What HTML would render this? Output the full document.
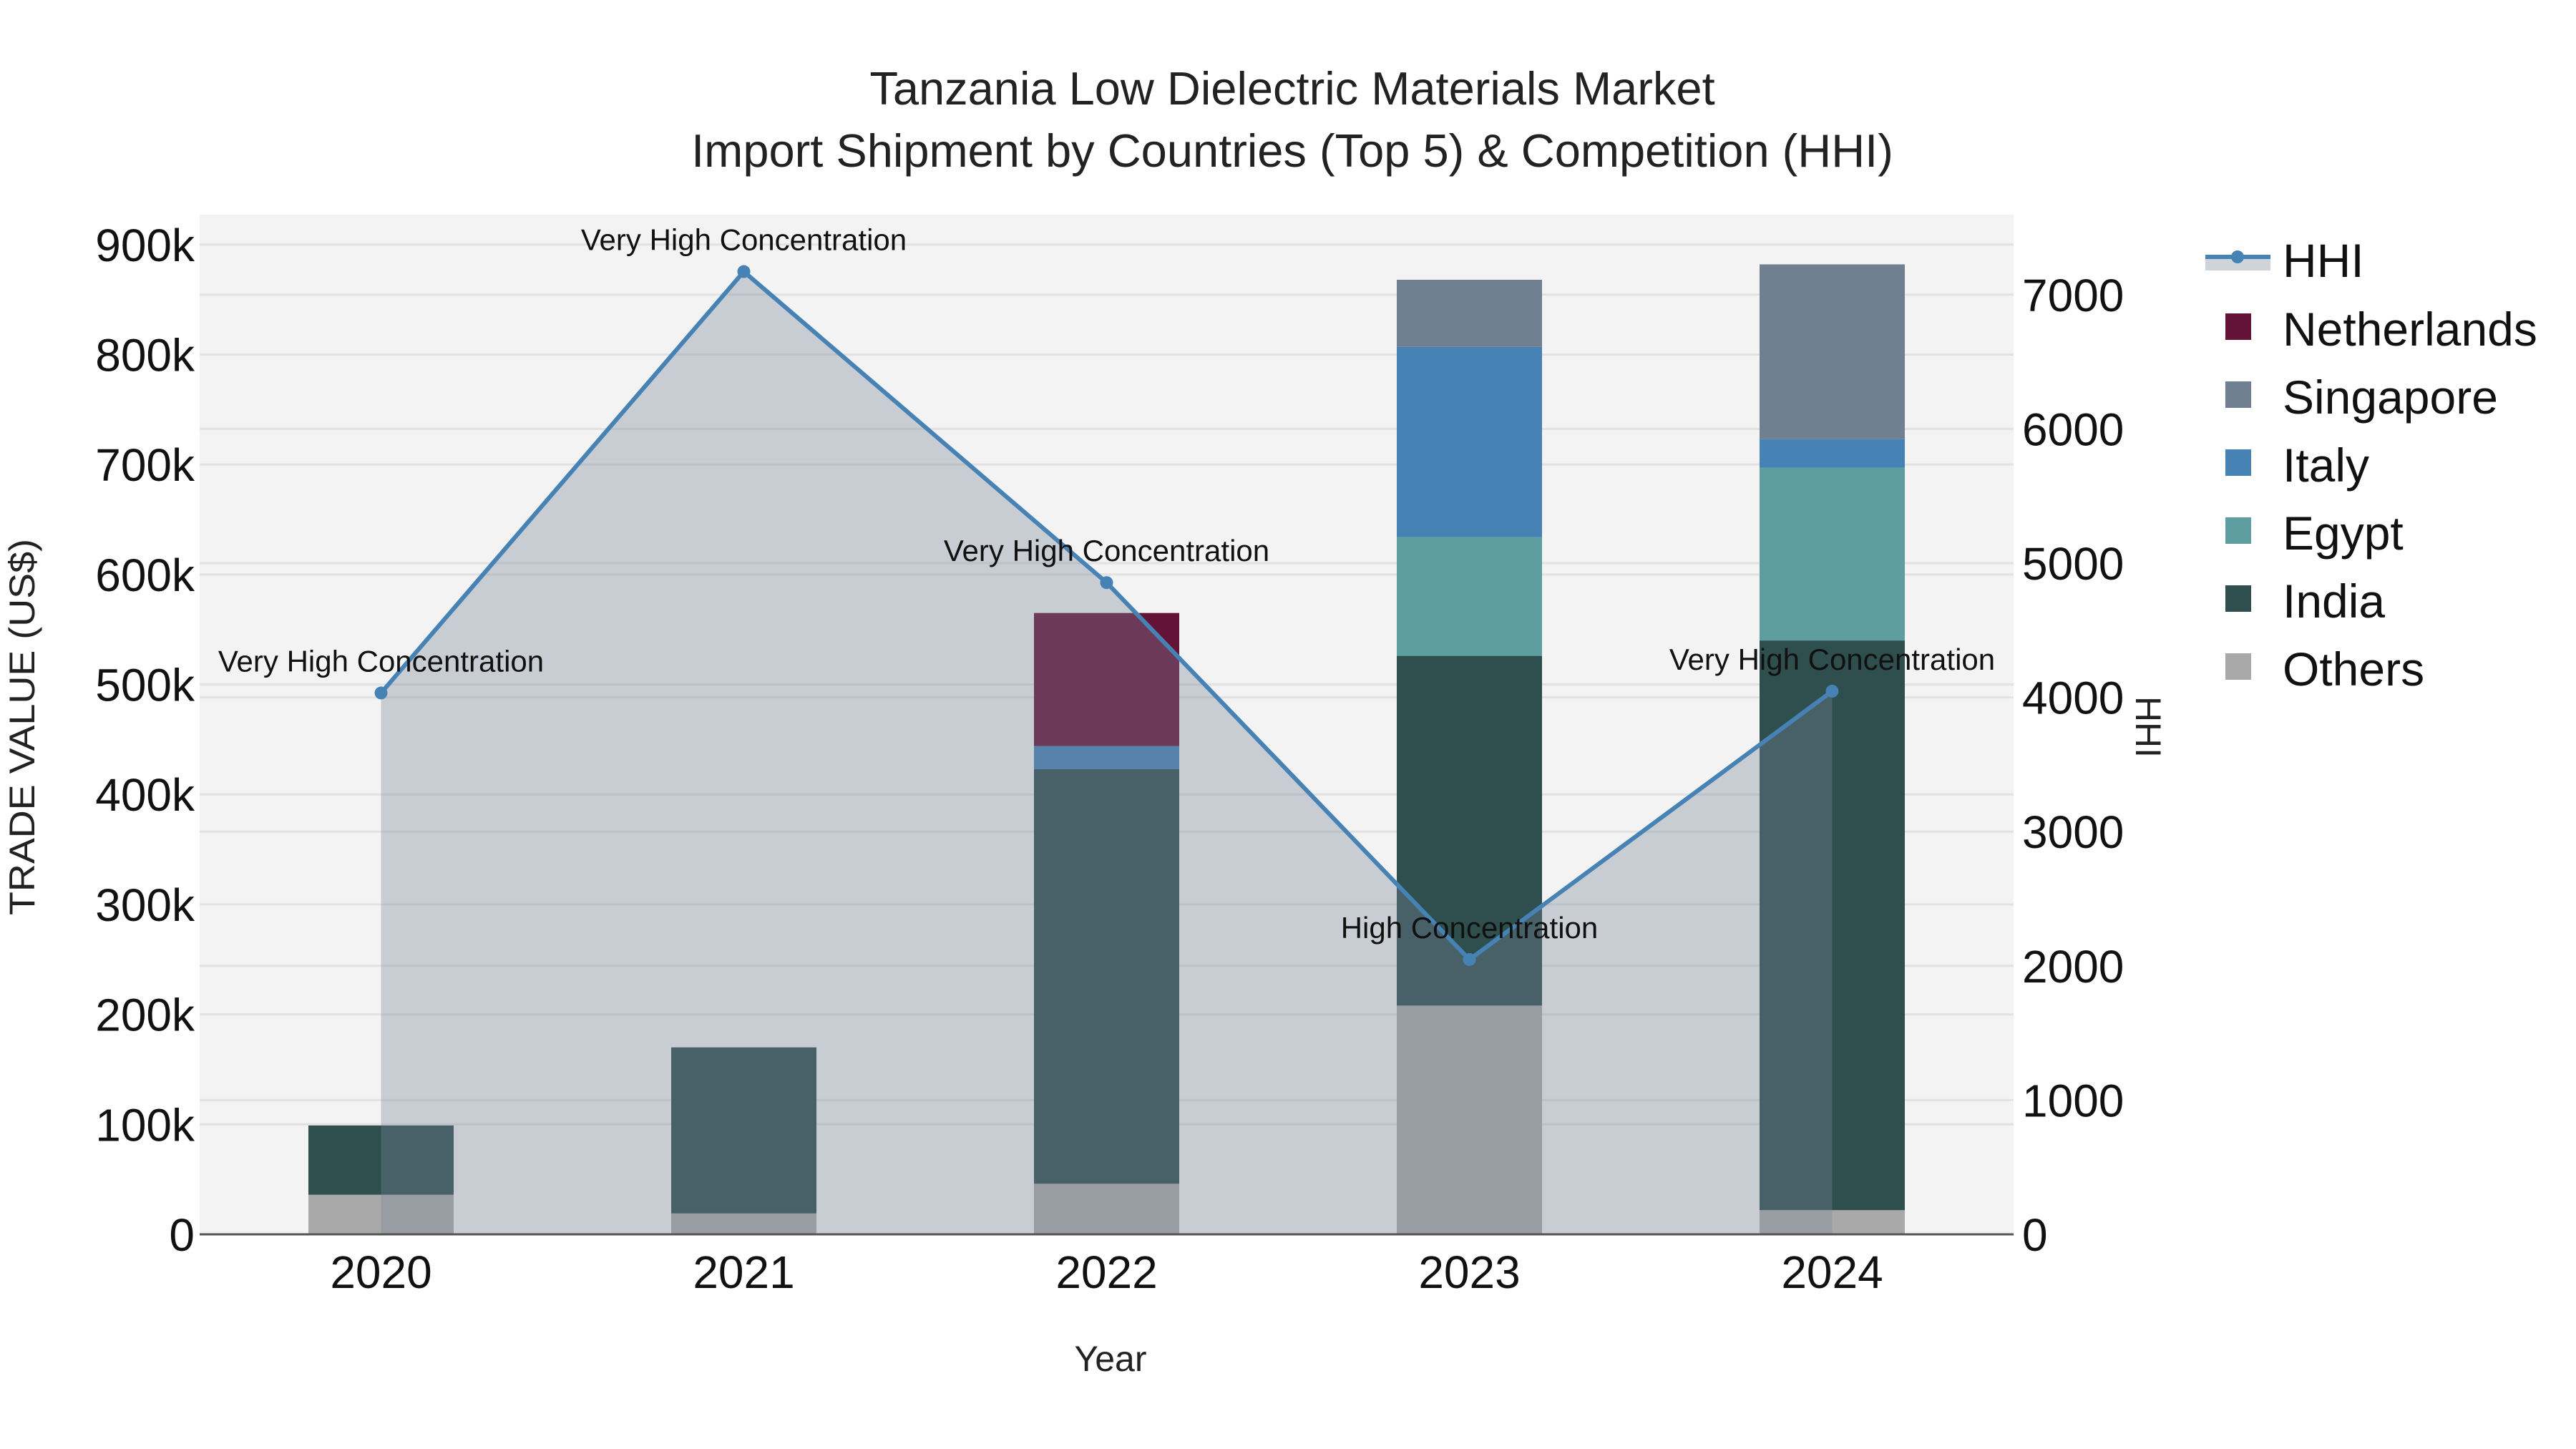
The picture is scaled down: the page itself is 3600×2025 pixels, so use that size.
<!DOCTYPE html>
<html><head><meta charset="utf-8"><style>
html,body{margin:0;padding:0;background:#fff;}
svg{display:block;font-family:"Liberation Sans",sans-serif;}
</style></head><body>
<svg id="chart" width="3600" height="2025" viewBox="0 0 3600 2025" xmlns="http://www.w3.org/2000/svg">
<rect x="0" y="0" width="3600" height="2025" fill="#ffffff"/>
<rect x="279" y="300" width="2535" height="1425" fill="#f3f3f3"/>
<g id="grid"></g>
<g id="bars"></g>
<g id="hhi"></g>
<g id="axes"></g>
<g id="legend"></g>
<text x="1806" y="146" font-size="65" text-anchor="middle" fill="#222">Tanzania Low Dielectric Materials Market</text>
<text x="1806" y="233" font-size="65" text-anchor="middle" fill="#222">Import Shipment by Countries (Top 5) &amp; Competition (HHI)</text>
<text x="1552" y="1916" font-size="50" text-anchor="middle" fill="#222">Year</text>
<text transform="translate(48,1016) rotate(-90)" font-size="50" text-anchor="middle" fill="#222" textLength="526" lengthAdjust="spacingAndGlyphs">TRADE VALUE (US$)</text>
<text transform="translate(2985,1016) rotate(90)" font-size="50" text-anchor="middle" fill="#222">HHI</text>
</svg>
<script>
const years = ['2020','2021','2022','2023','2024'];
const series = ['Others','India','Egypt','Italy','Singapore','Netherlands'];
const others = [36000, 19000, 46000, 208000, 22000];
const india = [63000, 151000, 377000, 318000, 518000];
const egypt = [0, 0, 0, 108000, 157000];
const italy = [0, 0, 21000, 173000, 26000];
const singapore = [0, 0, 0, 61000, 159000];
const netherlands = [0, 0, 121000, 0, 0];
const hhi = [4033, 7172, 4855, 2047, 4046];
const hhiLabels = ['Very High Concentration','Very High Concentration','Very High Concentration','High Concentration','Very High Concentration'];
const yTicks = [0,100000,200000,300000,400000,500000,600000,700000,800000,900000];
const yTickLabels = ['0','100k','200k','300k','400k','500k','600k','700k','800k','900k'];
const y2Ticks = [0,1000,2000,3000,4000,5000,6000,7000];

const NS='http://www.w3.org/2000/svg';
const L=279,R=2814,T=300,B=1725;
const Y1MAX=927200, Y2MAX=7596;
function xPos(i){return L+(i+0.5)*(R-L)/years.length;}
function yPos(v){return B-v/Y1MAX*(B-T);}
function y2Pos(v){return B-v/Y2MAX*(B-T);}
function mk(tag,attrs,parent){const e=document.createElementNS(NS,tag);for(const k in attrs)e.setAttribute(k,attrs[k]);parent.appendChild(e);return e;}
const colors={Others:'#a9a9a9',India:'#2f4f4f',Egypt:'#5f9ea0',Italy:'#4682b4',Singapore:'#708090',Netherlands:'#641338'};
const data={Others:others,India:india,Egypt:egypt,Italy:italy,Singapore:singapore,Netherlands:netherlands};

const grid=document.getElementById('grid');
yTicks.forEach((v,i)=>{
  const l=mk('line',{x1:L,x2:R,y1:yPos(v),y2:yPos(v),stroke:'#e2e2e2','stroke-width':3},grid);
  
  
});
y2Ticks.forEach(v=>{
  const l=mk('line',{x1:L,x2:R,y1:y2Pos(v),y2:y2Pos(v),stroke:'#e2e2e2','stroke-width':3},grid);
  
  
});

const bars=document.getElementById('bars');
const bw=203;
years.forEach((yr,i)=>{
  let base=0;
  series.forEach(s=>{
    const v=data[s][i];
    if(v>0){
      const r=mk('rect',{x:xPos(i)-bw/2,y:yPos(base+v),width:bw,height:yPos(base)-yPos(base+v),fill:colors[s]},bars);
      
      
    }
    base+=v;
  });
});

const hg=document.getElementById('hhi');
let pts=hhi.map((v,i)=>xPos(i)+','+y2Pos(v));
const area=mk('polygon',{points:xPos(0)+','+B+' '+pts.join(' ')+' '+xPos(hhi.length-1)+','+B,fill:'rgba(120,132,152,0.35)'},hg);


const line=mk('polyline',{points:pts.join(' '),fill:'none',stroke:'#4682b4','stroke-width':6},hg);


hhi.forEach((v,i)=>{
  const c=mk('circle',{cx:xPos(i),cy:y2Pos(v),r:9,fill:'#4682b4'},hg);
  
  
  const t=mk('text',{x:xPos(i),y:y2Pos(v)-30,'font-size':42,'text-anchor':'middle',fill:'#111'},hg);
  t.textContent=hhiLabels[i];
  
  
});

const ax=document.getElementById('axes');
const base=mk('line',{x1:L,x2:R,y1:B,y2:B,stroke:'#555','stroke-width':3},ax);


yTicks.forEach((v,i)=>{
  const t=mk('text',{x:272,y:yPos(v)+23,'font-size':64,'text-anchor':'end',fill:'#111'},ax);
  t.textContent=yTickLabels[i];
  
  
});
y2Ticks.forEach(v=>{
  const t=mk('text',{x:2826,y:y2Pos(v)+23,'font-size':64,'text-anchor':'start',fill:'#111'},ax);
  t.textContent=String(v);
  
  
});
years.forEach((yr,i)=>{
  const t=mk('text',{x:xPos(i),y:1800,'font-size':64,'text-anchor':'middle',fill:'#111'},ax);
  t.textContent=yr;
  
  
});

const lg=document.getElementById('legend');
const h1=mk('rect',{x:3082,y:362,width:91,height:16,fill:'#cfd4da'},lg);


const h2=mk('line',{x1:3082,x2:3173,y1:359,y2:359,stroke:'#4682b4','stroke-width':6},lg);


const h3=mk('circle',{cx:3127,cy:359,r:9,fill:'#4682b4'},lg);


const ht=mk('text',{x:3190,y:387,'font-size':66,fill:'#111'},lg);
ht.textContent='HHI';


const legOrder=['Netherlands','Singapore','Italy','Egypt','India','Others'];
legOrder.forEach((s,i)=>{
  const yb=483+i*95;
  const r=mk('rect',{x:3110,y:yb-45,width:36,height:37,fill:colors[s]},lg);
  
  
  const t=mk('text',{x:3190,y:yb,'font-size':66,fill:'#111'},lg);
  t.textContent=s;
  
  
});
</script>
</body></html>
